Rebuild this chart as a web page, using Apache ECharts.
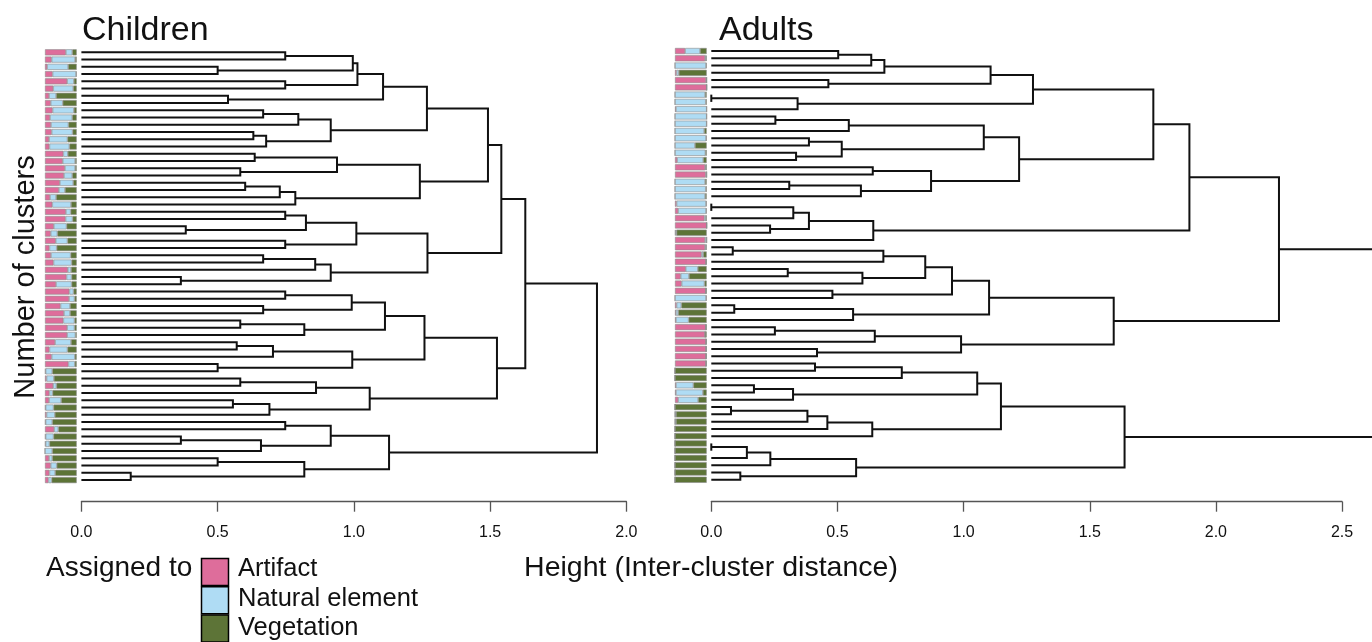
<!DOCTYPE html>
<html>
<head>
<meta charset="utf-8">
<script src="https://cdn.jsdelivr.net/npm/echarts@6/dist/echarts.min.js"></script>
<style>
  html, body { margin: 0; padding: 0; background: #fff; }
  #chart { width: 1372px; height: 642px; }
</style>
</head>
<body>
<div id="chart"></div>
<script>
// ---- Composition of each cluster (share assigned to each class), top row first ----
const kidsArtifact   = [.66,.21,.07,.24,.70,.26,.13,.18,.24,.16, .19,.21,.13,.14,.58,.56,.63,.60,.47,.44, .16,.23,.66,.65,.28,.18,.34,.14,.19,.27, .72,.68,.35,.77,.76,.49,.60,.58,.70,.70, .32,.14,.21,.74,.02,.05,.26,.14,.13,.02, .05,.02,.29,.02,.02,.00,.13,.18,.14,.11];
const kidsNatural    = [.20,.74,.66,.74,.21,.63,.22,.38,.67,.70, .55,.66,.58,.63,.14,.39,.32,.26,.42,.19, .19,.59,.15,.22,.40,.21,.37,.23,.62,.57, .10,.16,.49,.13,.17,.30,.19,.35,.23,.26, .50,.57,.73,.20,.21,.23,.10,.10,.38,.25, .26,.21,.13,.25,.12,.23,.10,.19,.18,.10];
const kidsVegetation = [.14,.05,.27,.02,.09,.11,.65,.44,.09,.14, .26,.13,.29,.23,.28,.05,.05,.14,.11,.37, .65,.18,.19,.13,.32,.61,.29,.63,.19,.16, .18,.16,.16,.10,.07,.21,.21,.07,.07,.04, .18,.29,.06,.06,.77,.72,.64,.76,.49,.73, .69,.77,.58,.73,.86,.77,.77,.63,.68,.79];

const adultArtifact   = [.32,.95,0,.05,.98,1,0,0,.03,0, 0,0,0,0,0,.07,.95,.97,0,0, 0,.05,.10,.93,1,.02,.95,.95,.84,.98, .34,.18,.21,.97,0,.05,.03,.03,.97,.95, .98,.98,.98,.98,0,0,.03,.03,.10,0, 0,0,0,0,0,0,0,0,0,0];
const adultNatural    = [.47,.03,.98,.07,.02,0,.95,.97,.97,1, 1,.92,.98,.63,.96,.82,.02,.03,.95,.97, .95,.93,.88,.04,0,.03,.05,.03,.05,0, .38,.26,.72,0,.98,.15,.07,.40,0,0, 0,0,0,0,0,0,.55,.85,.63,0, .03,.03,0,0,0,0,0,0,0,0];
const adultVegetation = [.21,.02,.02,.88,0,0,.05,.03,0,0, 0,.08,.02,.37,.04,.11,.03,0,.05,.03, .05,.02,.02,.03,0,.95,0,.02,.11,.02, .28,.56,.07,.03,.02,.80,.90,.57,.03,.05, .02,.02,.02,.02,1,1,.42,.12,.27,1, .97,.97,1,1,1,1,1,1,1,1];

// ---- Dendrograms: [merge height, left, right]; integers are leaf rows ----
const kidsA = [1.107, [1.013, [0.996, [0.748, 0, 1], [0.50, 2, 3]], [0.748, 4, 5]], [0.538, 6, 7]];
const kidsB = [0.915, [0.796, [0.667, 8, 9], 10], [0.678, [0.631, 11, 12], 13]];
const kidsC = [1.242, [0.938, [0.636, 14, 15], [0.583, 16, 17]], [0.785, [0.728, [0.601, 18, 19], 20], 21]];
const kidsD = [1.270, [1.009, [0.824, [0.748, 22, 23], [0.383, 24, 25]], [0.748, 26, 27]], [0.915, [0.858, [0.667, 28, 29], 30], [0.365, 31, 32]]];
const kidsE = [1.259, [1.114, [0.992, [0.748, 33, 34], [0.667, 35, 36]], [0.818, [0.583, 37, 38], 39]], [0.994, [0.703, [0.570, 40, 41], 42], [0.50, 43, 44]]];
const kidsF = [1.058, [0.861, [0.583, 45, 46], 47], [0.690, [0.556, 48, 49], 50]];
const kidsG = [1.129, [0.915, [0.748, 51, 52], [0.659, [0.365, 53, 54], 55]], [0.818, [0.50, 56, 57], [0.181, 58, 59]]];
const kidsTopHeights = [1.268, 1.492, 1.541, 1.525, 1.629, 1.892];

const adultT1 = [1.107, [0.686, [0.634, [0.503, 0, 1], 2], 3], [0.464, 4, 5]];
const adultT2 = [0.342, [0, 6, 7], 8];
const adultT3 = [1.220, [1.080, [0.545, [0.254, 9, 10], 11], [0.517, [0.387, 12, 13], [0.336, 14, 15]]], [0.871, [0.640, 16, 17], [0.593, [0.309, 18, 19], 20]]];
const adultT4 = [0.642, [0.387, [0.325, [0, 21, 22], 23], [0.233, 24, 25]], 26];
const adultS1 = [1.101, [0.954, [0.848, [0.682, [0.085, 27, 28], 29], [0.599, [0.303, 30, 31], 32]], [0.480, 33, 34]], [0.562, [0.091, 35, 36], 37]];
const adultS2 = [0.990, [0.648, [0.252, 38, 39], 40], [0.419, 41, 42]];
const adultS3 = [1.148, [1.054, [0.755, [0.411, 43, 44], 45], [0.324, [0.169, 46, 47], 48]], [0.638, [0.460, [0.381, [0.078, 49, 50], 51], 52], 53]];
const adultS4 = [0.574, [0.234, [0.141, [0, 54, 55], 56], 57], [0.115, 58, 59]];
const adultTopHeights = [1.275, 1.752, 1.895, 1.595, 2.250, 1.638, 2.80];

const heightTicks = ['0.0', '0.5', '1.0', '1.5', '2.0', '2.5'];
const classNames = ['Artifact', 'Natural element', 'Vegetation'];
const classColors = ['#de6d9b', '#afdcf4', '#5d7437'];

// Assemble the upper levels of both trees
const kidsTree = [kidsTopHeights[5],
  [kidsTopHeights[4],
    [kidsTopHeights[2], [kidsTopHeights[1], [kidsTopHeights[0], kidsA, kidsB], kidsC], kidsD],
    [kidsTopHeights[3], kidsE, kidsF]],
  kidsG];
const adultTree = [adultTopHeights[6],
  [adultTopHeights[4],
    [adultTopHeights[2], [adultTopHeights[1], [adultTopHeights[0], adultT1, adultT2], adultT3], adultT4],
    [adultTopHeights[3], adultS1, adultS2]],
  [adultTopHeights[5], adultS3, adultS4]];

// Walk a tree, emitting one bracket per merge: [hLeft, yLeft, h, hRight, yRight]
function brackets(node, out) {
  if (typeof node === 'number') return { h: 0, y: node };
  const a = brackets(node[1], out);
  const b = brackets(node[2], out);
  out.push([a.h, a.y, node[0], b.h, b.y]);
  return { h: node[0], y: (a.y + b.y) / 2 };
}
const kidsBrackets = []; brackets(kidsTree, kidsBrackets);
const adultBrackets = []; brackets(adultTree, adultBrackets);

const leafRows = kidsArtifact.map((_, i) => 'C' + (i + 1));
const FONT = 'Liberation Sans, Arial, Helvetica, sans-serif';

function renderBracket(params, api) {
  const p0 = api.coord([api.value(0), api.value(1)]);
  const p1 = api.coord([api.value(2), api.value(1)]);
  const p2 = api.coord([api.value(2), api.value(4)]);
  const p3 = api.coord([api.value(3), api.value(4)]);
  return {
    type: 'polyline',
    shape: { points: [p0, p1, p2, p3] },
    style: { stroke: '#111', lineWidth: 2, fill: null, lineJoin: 'miter' }
  };
}

function heightAxis(gridIndex, max, offset) {
  return {
    type: 'value', gridIndex, min: 0, max, interval: 0.5, position: 'bottom', offset,
    axisLine: { show: true, onZero: false, lineStyle: { color: '#555', width: 1.3 } },
    axisTick: { show: true, length: 10, lineStyle: { color: '#555', width: 1.3 } },
    axisLabel: { margin: 23, color: '#111', fontSize: 16, fontFamily: FONT,
                 formatter: v => heightTicks[Math.round(v / 0.5)] },
    splitLine: { show: false }
  };
}

function compositionSeries(stack, axisIndex, values) {
  return values.map((vals, k) => ({
    name: classNames[k], type: 'bar', stack,
    xAxisIndex: axisIndex, yAxisIndex: axisIndex,
    data: vals, barCategoryGap: '16%',
    itemStyle: { color: classColors[k], borderColor: '#8c8c8c', borderWidth: 0.6 },
    silent: true
  }));
}

// Legend block: "Assigned to" followed by a column of swatches
const legendGraphics = [
  { type: 'text', x: 46, y: 568, style: { text: 'Assigned to', font: '28px ' + FONT, fill: '#111', textVerticalAlign: 'middle' } }
];
classNames.forEach((name, k) => {
  legendGraphics.push({ type: 'rect', shape: { x: 201.5, y: 558.5 + k * 28.3, width: 27, height: 27 },
    style: { fill: classColors[k], stroke: '#000', lineWidth: 1.5 } });
  legendGraphics.push({ type: 'text', x: 238, y: 569 + k * 29.5,
    style: { text: name, font: '25.5px ' + FONT, fill: '#111', textVerticalAlign: 'middle' } });
});

const chart = echarts.init(document.getElementById('chart'), null, { renderer: 'canvas' });
chart.setOption({
  animation: false,
  backgroundColor: '#fff',
  grid: [
    { left: 45, top: 48.7, width: 31.7, height: 435 },
    { left: 81.4, top: 48.7, width: 545, height: 435 },
    { left: 675, top: 47.4, width: 31.7, height: 436 },
    { left: 711.3, top: 47.4, width: 630.75, height: 436 }
  ],
  xAxis: [
    { type: 'value', gridIndex: 0, min: 0, max: 1, show: false },
    heightAxis(1, 2.0, 18),
    { type: 'value', gridIndex: 2, min: 0, max: 1, show: false },
    heightAxis(3, 2.5, 18.3)
  ],
  yAxis: [
    { type: 'category', gridIndex: 0, data: leafRows, inverse: true, show: false },
    { type: 'value', gridIndex: 1, min: -0.5, max: 59.5, inverse: true, show: false },
    { type: 'category', gridIndex: 2, data: leafRows, inverse: true, show: false },
    { type: 'value', gridIndex: 3, min: -0.5, max: 59.5, inverse: true, show: false }
  ],
  graphic: [
    { type: 'text', x: 82, y: 31, style: { text: 'Children', font: '34px ' + FONT, fill: '#111', textVerticalAlign: 'middle' } },
    { type: 'text', x: 719, y: 31, style: { text: 'Adults', font: '34px ' + FONT, fill: '#111', textVerticalAlign: 'middle' } },
    { type: 'text', x: 26, y: 277, rotation: Math.PI / 2,
      style: { text: 'Number of clusters', font: '29px ' + FONT, fill: '#111', textAlign: 'center', textVerticalAlign: 'middle' } },
    { type: 'text', x: 711, y: 568, style: { text: 'Height (Inter-cluster distance)', font: '28.5px ' + FONT, fill: '#111', textAlign: 'center', textVerticalAlign: 'middle' } },
    ...legendGraphics
  ],
  series: [
    ...compositionSeries('kids', 0, [kidsArtifact, kidsNatural, kidsVegetation]),
    ...compositionSeries('adults', 2, [adultArtifact, adultNatural, adultVegetation]),
    { type: 'custom', name: 'Children tree', xAxisIndex: 1, yAxisIndex: 1, clip: false,
      renderItem: renderBracket, data: kidsBrackets, silent: true },
    { type: 'custom', name: 'Adults tree', xAxisIndex: 3, yAxisIndex: 3, clip: false,
      renderItem: renderBracket, data: adultBrackets, silent: true }
  ]
});
</script>
</body>
</html>
